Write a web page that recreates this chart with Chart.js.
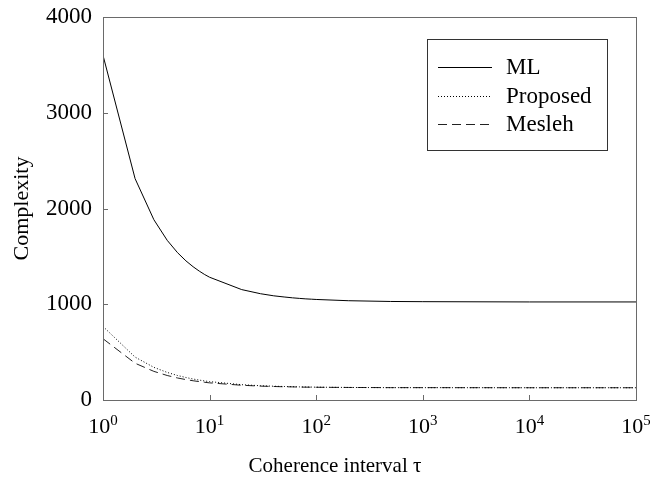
<!DOCTYPE html>
<html>
<head>
<meta charset="utf-8">
<script src="https://cdn.jsdelivr.net/npm/chart.js@4.4.1/dist/chart.umd.min.js"></script>
<style>
  html, body { margin: 0; padding: 0; background: #fff; }
  #wrap { width: 650px; height: 482px; position: relative; }
</style>
</head>
<body>
<div id="wrap"><canvas id="c" width="650" height="482"></canvas></div>
<script>
// Coherence interval tau (x values)
const tau = [1, 2, 3, 4, 5, 6, 7, 8, 9, 10, 20, 30, 40, 50, 60, 70, 80, 90, 100, 200, 500, 1000, 10000, 100000];
// Series values
const mlValues       = [3600, 2312, 1883, 1668, 1539, 1453, 1392, 1346, 1310, 1282, 1153, 1110, 1088, 1076, 1067, 1061, 1056, 1053, 1050, 1037, 1029, 1027, 1024, 1024];
const proposedValues = [768, 448, 341, 288, 256, 235, 219, 208, 199, 192, 160, 149, 144, 141, 139, 137, 136, 135, 134, 131, 129, 129, 128, 128];
const meslehValues   = [640, 384, 299, 256, 230, 213, 201, 192, 185, 179, 154, 145, 141, 138, 137, 135, 134, 134, 133, 131, 129, 129, 128, 128];
const seriesNames = ['ML', 'Proposed', 'Mesleh'];
const xTickExponents = [0, 1, 2, 3, 4, 5];
const yTickValues = [0, 1000, 2000, 3000, 4000];
const xTitle = 'Coherence interval \u03C4';
const yTitle = 'Complexity';

const FONT = "'Liberation Serif', 'Times New Roman', serif";

function pts(vals) { return tau.map((t, i) => ({ x: t, y: vals[i] })); }

const styles = [
  { borderColor: '#000', borderDash: [] },
  { borderColor: '#000', borderDash: [1, 2] },
  { borderColor: '#222', borderDash: [9, 5] }
];

const datasets = [mlValues, proposedValues, meslehValues].map((v, i) => ({
  label: seriesNames[i],
  data: pts(v),
  borderColor: styles[i].borderColor,
  borderDash: styles[i].borderDash,
  borderWidth: 1,
  pointRadius: 0,
  tension: 0,
  fill: false
}));

const framePlugin = {
  id: 'frame',
  afterDraw(chart) {
    const ctx = chart.ctx;
    const a = chart.chartArea;
    const xs = chart.scales.x, ys = chart.scales.y;
    ctx.save();
    // frame
    ctx.strokeStyle = '#6a6a6a';
    ctx.lineWidth = 1;
    ctx.setLineDash([]);
    ctx.strokeRect(Math.round(a.left) + 0.5, Math.round(a.top) + 0.5, Math.round(a.right - a.left), Math.round(a.bottom - a.top));
    // inward ticks
    ctx.beginPath();
    xTickExponents.forEach(e => {
      const px = Math.round(xs.getPixelForValue(Math.pow(10, e))) + 0.5;
      ctx.moveTo(px, a.bottom);
      ctx.lineTo(px, a.bottom - 5);
    });
    yTickValues.forEach(v => {
      const py = Math.round(ys.getPixelForValue(v)) + 0.5;
      ctx.moveTo(a.left, py);
      ctx.lineTo(a.left + 5, py);
    });
    ctx.stroke();
    // x tick labels 10^e
    ctx.fillStyle = '#000';
    ctx.textBaseline = 'alphabetic';
    xTickExponents.forEach(e => {
      const px = xs.getPixelForValue(Math.pow(10, e));
      ctx.font = '22px ' + FONT;
      const wb = ctx.measureText('10').width;
      ctx.font = '15px ' + FONT;
      const we = ctx.measureText(String(e)).width;
      const x0 = px - (wb + we) / 2;
      ctx.font = '22px ' + FONT;
      ctx.textAlign = 'left';
      ctx.fillText('10', x0, 433);
      ctx.font = '15px ' + FONT;
      ctx.fillText(String(e), x0 + wb, 425);
    });
    // x axis title
    ctx.font = '21px ' + FONT;
    ctx.textAlign = 'center';
    ctx.fillText(xTitle, 335, 472);
    // legend
    const bx = 427.5, by = 39.5, bw = 180, bh = 111;
    ctx.fillStyle = '#fff';
    ctx.fillRect(bx, by, bw, bh);
    ctx.strokeStyle = '#333';
    ctx.lineWidth = 1;
    ctx.strokeRect(bx, by, bw, bh);
    const rows = [67, 96, 124];
    chart.data.datasets.forEach((ds, i) => {
      const y = rows[i] + 0.5;
      ctx.beginPath();
      ctx.strokeStyle = ds.borderColor;
      ctx.setLineDash(ds.borderDash);
      ctx.moveTo(438, y);
      ctx.lineTo(492, y);
      ctx.stroke();
      ctx.setLineDash([]);
      ctx.fillStyle = '#000';
      ctx.font = '23px ' + FONT;
      ctx.textAlign = 'left';
      ctx.textBaseline = 'middle';
      ctx.fillText(ds.label, 506, rows[i] + 1);
    });
    ctx.restore();
  }
};

new Chart(document.getElementById('c'), {
  type: 'line',
  data: { datasets },
  options: {
    responsive: false,
    animation: false,
    devicePixelRatio: 1,
    layout: { padding: { left: 0, top: 17, right: 14, bottom: 0 } },
    plugins: { legend: { display: false }, tooltip: { enabled: false } },
    scales: {
      x: {
        type: 'logarithmic',
        min: 1, max: 100000,
        grid: { display: false, drawTicks: false },
        border: { display: false },
        ticks: { display: false },
        title: { display: false },
        afterFit(s) { s.height = 82; s.paddingLeft = 0; s.paddingRight = 0; s.paddingTop = 0; s.paddingBottom = 0; }
      },
      y: {
        type: 'linear',
        min: 0, max: 4000,
        grid: { display: false, drawTicks: false },
        border: { display: false },
        afterBuildTicks(s) { s.ticks = yTickValues.map(v => ({ value: v })); },
        ticks: { color: '#000', padding: 11, font: { family: FONT, size: 23 }, callback: v => String(v) },
        title: { display: true, text: yTitle, color: '#000', font: { family: FONT, size: 22 }, padding: { top: 9, bottom: 0 } },
        afterFit(s) { s.width = 103; s.paddingTop = 0; s.paddingBottom = 0; s.paddingLeft = 0; s.paddingRight = 0; }
      }
    }
  },
  plugins: [framePlugin]
});
</script>
</body>
</html>
